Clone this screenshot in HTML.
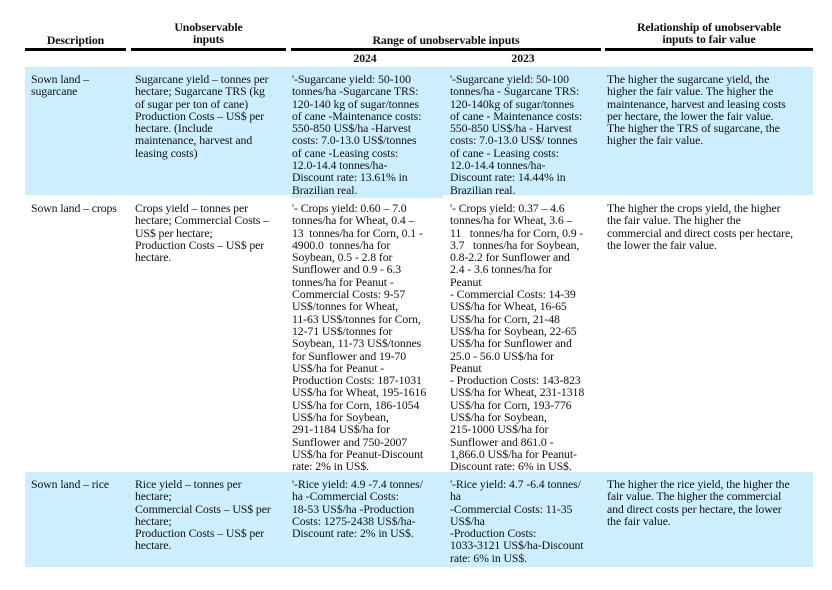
<!DOCTYPE html>
<html><head><meta charset="utf-8"><style>
body{margin:0;width:832px;height:590px;background:#fff;position:relative;font-family:"Liberation Serif",serif;color:#111;overflow:hidden}
.t{position:absolute;font-size:11.8px;line-height:12.3px;white-space:nowrap;letter-spacing:-0.1px}
.h{position:absolute;font-size:11.8px;line-height:12px;font-weight:bold;text-align:center;white-space:nowrap;letter-spacing:-0.1px}
.r{position:absolute;height:3px;background:#000;top:48px}
.bg{position:absolute;background:#cceeff}
</style></head><body>
<div class="bg" style="left:25px;top:67px;width:788px;height:128px"></div>
<div class="bg" style="left:291px;top:195px;width:152px;height:3px"></div>
<div class="bg" style="left:25px;top:472px;width:788px;height:95px"></div>

<div class="h" style="left:25px;width:101px;top:34px">Description</div>
<div class="h" style="left:131px;width:155px;top:21px">Unobservable<br>inputs</div>
<div class="h" style="left:291px;width:310px;top:34px">Range of unobservable inputs</div>
<div class="h" style="left:605px;width:208px;top:21px">Relationship of unobservable<br>inputs to fair value</div>
<div class="r" style="left:25px;width:101px"></div>
<div class="r" style="left:131px;width:155px"></div>
<div class="r" style="left:291px;width:310px"></div>
<div class="r" style="left:605px;width:208px"></div>
<div class="h" style="left:330px;width:70px;top:52px">2024</div>
<div class="h" style="left:488px;width:70px;top:52px">2023</div>

<div class="t" style="left:31px;top:73px">Sown land –<br>sugarcane</div>
<div class="t" style="left:135px;top:73px">Sugarcane yield – tonnes per<br>hectare; Sugarcane TRS (kg<br>of sugar per ton of cane)<br>Production Costs – US$ per<br>hectare. (Include<br>maintenance, harvest and<br>leasing costs)</div>
<div class="t" style="left:292px;top:73px">'-Sugarcane yield: 50-100<br>tonnes/ha -Sugarcane TRS:<br>120-140 kg of sugar/tonnes<br>of cane -Maintenance costs:<br>550-850 US$/ha -Harvest<br>costs: 7.0-13.0 US$/tonnes<br>of cane -Leasing costs:<br>12.0-14.4 tonnes/ha-<br>Discount rate: 13.61% in<br>Brazilian real.</div>
<div class="t" style="left:450px;top:73px">'-Sugarcane yield: 50-100<br>tonnes/ha - Sugarcane TRS:<br>120-140kg of sugar/tonnes<br>of cane - Maintenance costs:<br>550-850 US$/ha - Harvest<br>costs: 7.0-13.0 US$/ tonnes<br>of cane - Leasing costs:<br>12.0-14.4 tonnes/ha-<br>Discount rate: 14.44% in<br>Brazilian real.</div>
<div class="t" style="left:607px;top:73px">The higher the sugarcane yield, the<br>higher the fair value. The higher the<br>maintenance, harvest and leasing costs<br>per hectare, the lower the fair value.<br>The higher the TRS of sugarcane, the<br>higher the fair value.</div>

<div class="t" style="left:31px;top:202px">Sown land – crops</div>
<div class="t" style="left:135px;top:202px">Crops yield – tonnes per<br>hectare; Commercial Costs –<br>US$ per hectare;<br>Production Costs – US$ per<br>hectare.</div>
<div class="t" style="left:292px;top:202px">'- Crops yield: 0.60 – 7.0<br>tonnes/ha for Wheat, 0.4 –<br>13&nbsp; tonnes/ha for Corn, 0.1 -<br>4900.0&nbsp; tonnes/ha for<br>Soybean, 0.5 - 2.8 for<br>Sunflower and 0.9 - 6.3<br>tonnes/ha for Peanut -<br>Commercial Costs: 9-57<br>US$/tonnes for Wheat,<br>11-63 US$/tonnes for Corn,<br>12-71 US$/tonnes for<br>Soybean, 11-73 US$/tonnes<br>for Sunflower and 19-70<br>US$/ha for Peanut -<br>Production Costs: 187-1031<br>US$/ha for Wheat, 195-1616<br>US$/ha for Corn, 186-1054<br>US$/ha for Soybean,<br>291-1184 US$/ha for<br>Sunflower and 750-2007<br>US$/ha for Peanut-Discount<br>rate: 2% in US$.</div>
<div class="t" style="left:450px;top:202px">'- Crops yield: 0.37 – 4.6<br>tonnes/ha for Wheat, 3.6 –<br>11&nbsp;&nbsp; tonnes/ha for Corn, 0.9 -<br>3.7&nbsp;&nbsp; tonnes/ha for Soybean,<br>0.8-2.2 for Sunflower and<br>2.4 - 3.6 tonnes/ha for<br>Peanut<br>- Commercial Costs: 14-39<br>US$/ha for Wheat, 16-65<br>US$/ha for Corn, 21-48<br>US$/ha for Soybean, 22-65<br>US$/ha for Sunflower and<br>25.0 - 56.0 US$/ha for<br>Peanut<br>- Production Costs: 143-823<br>US$/ha for Wheat, 231-1318<br>US$/ha for Corn, 193-776<br>US$/ha for Soybean,<br>215-1000 US$/ha for<br>Sunflower and 861.0 -<br>1,866.0 US$/ha for Peanut-<br>Discount rate: 6% in US$.</div>
<div class="t" style="left:607px;top:202px">The higher the crops yield, the higher<br>the fair value. The higher the<br>commercial and direct costs per hectare,<br>the lower the fair value.</div>

<div class="t" style="left:31px;top:478px">Sown land – rice</div>
<div class="t" style="left:135px;top:478px">Rice yield – tonnes per<br>hectare;<br>Commercial Costs – US$ per<br>hectare;<br>Production Costs – US$ per<br>hectare.</div>
<div class="t" style="left:292px;top:478px">'-Rice yield: 4.9 -7.4 tonnes/<br>ha -Commercial Costs:<br>18-53 US$/ha -Production<br>Costs: 1275-2438 US$/ha-<br>Discount rate: 2% in US$.</div>
<div class="t" style="left:450px;top:478px">'-Rice yield: 4.7 -6.4 tonnes/<br>ha<br>-Commercial Costs: 11-35<br>US$/ha<br>-Production Costs:<br>1033-3121 US$/ha-Discount<br>rate: 6% in US$.</div>
<div class="t" style="left:607px;top:478px">The higher the rice yield, the higher the<br>fair value. The higher the commercial<br>and direct costs per hectare, the lower<br>the fair value.</div>
</body></html>
